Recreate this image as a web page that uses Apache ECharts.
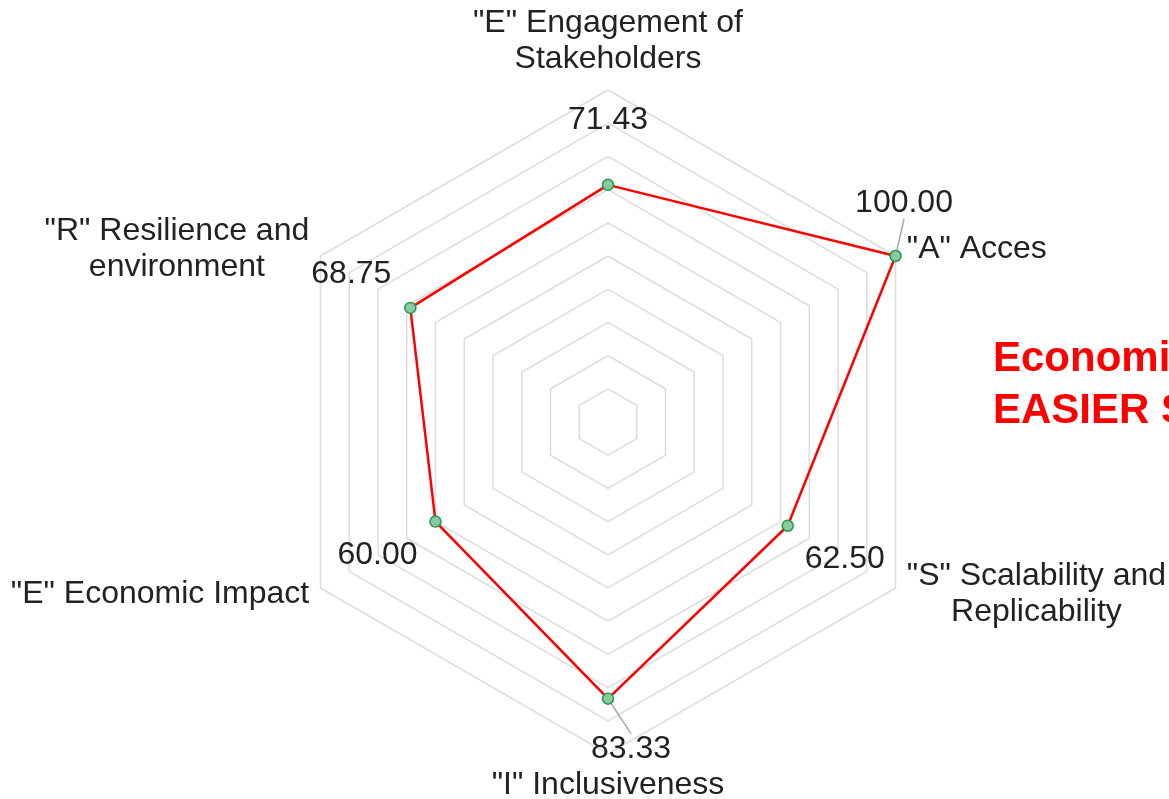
<!DOCTYPE html>
<html>
<head>
<meta charset="utf-8">
<script src="https://cdn.jsdelivr.net/npm/echarts@6/dist/echarts.min.js"></script>
<style>
html,body{margin:0;padding:0;background:#fff;}
#chart{width:1169px;height:799px;}
</style>
</head>
<body>
<div id="chart"></div>
<script>
// Indicators in ECharts radar order (counter-clockwise from top)
var categories = [
  '"E" Engagement of\nStakeholders',
  '"R" Resilience and\nenvironment',
  '"E" Economic Impact',
  '"I" Inclusiveness',
  '"S" Scalability and\nReplicability',
  '"A" Acces'
];
var scores = [71.43, 68.75, 60.00, 83.33, 62.50, 100.00];
var axisMax = 100;
var titleLines = ['Economic Impact', 'EASIER Score'];

// label placement (offset of value label centre from its point), and which get a leader line
var labelDx = [0, -59, -58, 23, 57, 8.5];
var labelDy = [-65, -34, 34, 51, 33.5, -53];
var withLeader = [false, false, false, true, false, true];

var fmtVals = scores.map(function (v) { return v.toFixed(2); });

function layoutFor(params) {
  var i = fmtVals.indexOf(params.text);
  var cx = params.rect.x + params.rect.width / 2;
  var cy = params.rect.y + params.rect.height / 2;
  if (i < 0) return { x: cx, y: cy, align: 'center', verticalAlign: 'middle' };
  return { x: cx + labelDx[i], y: cy + labelDy[i], align: 'center', verticalAlign: 'middle' };
}

var FONT = 'Liberation Sans, Arial, sans-serif';
var chart = echarts.init(document.getElementById('chart'));
var option = {
  animation: false,
  backgroundColor: '#ffffff',
  title: {
    text: titleLines.join('\n'),
    left: 993,
    top: 333,
    padding: 0,
    textStyle: {
      color: '#ff0000',
      fontFamily: FONT,
      fontWeight: 'bold',
      fontSize: 42,
      lineHeight: 52
    }
  },
  radar: {
    center: [608, 422],
    radius: 332,
    startAngle: 90,
    shape: 'polygon',
    splitNumber: 10,
    nameGap: 13,
    indicator: categories.map(function (c) { return { name: c, min: 0, max: axisMax }; }),
    axisName: {
      color: '#222222',
      fontFamily: FONT,
      fontSize: 32,
      lineHeight: 36,
      formatter: function (name) {
        return name.split('\n').map(function (l) { return '{c|' + l + '}'; }).join('\n');
      },
      rich: {
        c: {
          align: 'center',
          color: '#222222',
          fontFamily: FONT,
          fontSize: 32,
          lineHeight: 36
        }
      }
    },
    axisLine: { show: false },
    axisTick: { show: false },
    axisLabel: { show: false },
    splitLine: { lineStyle: { color: '#dcdcdc', width: 1.5 } },
    splitArea: { show: false }
  },
  series: [
    {
      type: 'radar',
      z: 1,
      silent: true,
      symbol: 'circle',
      symbolSize: 11,
      lineStyle: { opacity: 0, width: 0 },
      itemStyle: { color: 'rgba(0,0,0,0)', borderWidth: 0 },
      label: {
        show: true,
        color: '#222222',
        fontFamily: FONT,
        fontSize: 32,
        formatter: function (p) {
          var i = fmtVals.indexOf(Number(p.value).toFixed(2));
          return (i >= 0 && withLeader[i]) ? fmtVals[i] : '';
        }
      },
      labelLine: { show: true, length2: 0, lineStyle: { color: '#a8a8a8', width: 1.5 } },
      labelLayout: layoutFor,
      data: [{ value: scores }]
    },
    {
      type: 'radar',
      z: 3,
      silent: true,
      symbol: 'circle',
      symbolSize: 11,
      lineStyle: { color: '#ff0000', width: 2.5 },
      itemStyle: { color: '#8cc9a0', borderColor: '#1e9a4c', borderWidth: 1.5 },
      label: {
        show: true,
        color: '#222222',
        fontFamily: FONT,
        fontSize: 32,
        formatter: function (p) {
          var i = fmtVals.indexOf(Number(p.value).toFixed(2));
          return (i >= 0 && !withLeader[i]) ? fmtVals[i] : '';
        }
      },
      labelLayout: layoutFor,
      data: [{ value: scores }]
    }
  ]
};
chart.setOption(option);
</script>
</body>
</html>
